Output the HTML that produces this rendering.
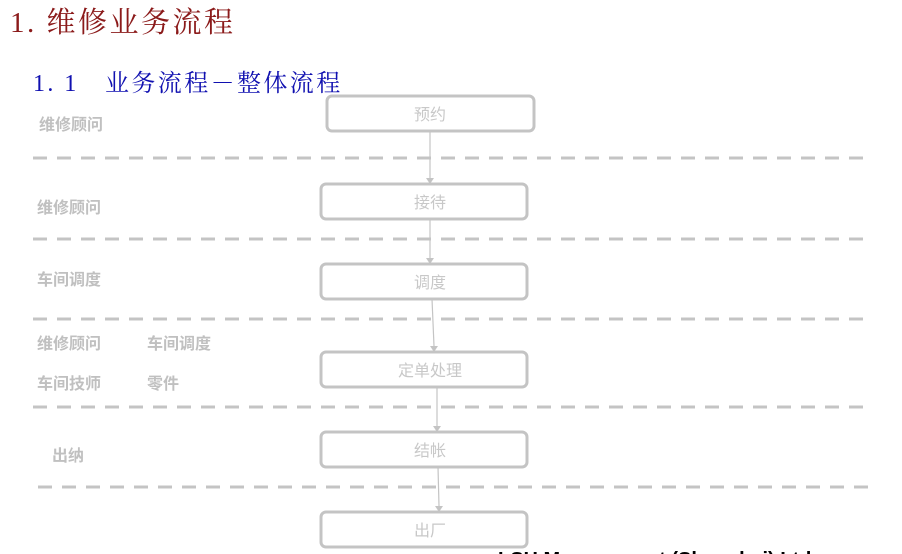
<!DOCTYPE html>
<html><head><meta charset="utf-8"><style>
body{margin:0;background:#fff;width:902px;height:554px;overflow:hidden;position:relative;font-family:"Liberation Sans","Noto Sans CJK SC",sans-serif}
.t{position:absolute;white-space:nowrap}
.l{color:#c0c0c0;font-weight:bold;font-size:16px}
</style></head><body>
<div class="t" style="left:10px;top:0px;font-size:29px;letter-spacing:2.5px;color:#8b1a1a;font-family:'Liberation Serif','Noto Serif CJK SC',serif">1. 维修业务流程</div>
<div class="t" style="left:33px;top:63px;font-size:24px;letter-spacing:2.4px;color:#1010b0;font-family:'Liberation Serif','Noto Serif CJK SC',serif">1. 1　业务流程－整体流程</div>
<div class="t l" style="left:39px;top:111px">维修顾问</div>
<div class="t l" style="left:37px;top:194px">维修顾问</div>
<div class="t l" style="left:37px;top:266px">车间调度</div>
<div class="t l" style="left:37px;top:330px">维修顾问</div>
<div class="t l" style="left:147px;top:330px">车间调度</div>
<div class="t l" style="left:37px;top:370px">车间技师</div>
<div class="t l" style="left:147px;top:370px">零件</div>
<div class="t l" style="left:52px;top:442px">出纳</div>
<svg width="902" height="554" style="position:absolute;left:0;top:0" font-family="Liberation Sans,Noto Sans CJK SC,sans-serif">
<g stroke="#c4c4c4" stroke-width="3" stroke-dasharray="14,10">
<line x1="33" y1="158" x2="865" y2="158"/>
<line x1="33" y1="239" x2="865" y2="239"/>
<line x1="33" y1="319" x2="865" y2="319"/>
<line x1="33" y1="407" x2="865" y2="407"/>
<line x1="38" y1="487" x2="868" y2="487"/>
</g>
<g stroke="#c4c4c4" stroke-width="1.2">
<line x1="430" y1="131" x2="430" y2="178"/>
<line x1="430" y1="219" x2="430" y2="258"/>
<line x1="432" y1="299" x2="434" y2="346"/>
<line x1="437" y1="387" x2="437" y2="426"/>
<line x1="438" y1="467" x2="439" y2="506"/>
</g>
<g fill="#c4c4c4">
<polygon points="426,178 434,178 430,184"/>
<polygon points="426,258 434,258 430,264"/>
<polygon points="430,346 438,346 434,352"/>
<polygon points="433,426 441,426 437,432"/>
<polygon points="435,506 443,506 439,512"/>
</g>
<g fill="#fff" stroke="#c4c4c4" stroke-width="3">
<rect x="327" y="96" width="207" height="35" rx="5"/>
<rect x="321" y="184" width="206" height="35" rx="5"/>
<rect x="321" y="264" width="206" height="35" rx="5"/>
<rect x="321" y="352" width="206" height="35" rx="5"/>
<rect x="321" y="432" width="206" height="35" rx="5"/>
<rect x="321" y="512" width="206" height="35" rx="5"/>
</g>
<g fill="#c8c8c8" font-size="16" text-anchor="middle">
<text x="430" y="120">预约</text>
<text x="430" y="208">接待</text>
<text x="430" y="288">调度</text>
<text x="430" y="376">定单处理</text>
<text x="430" y="456">结帐</text>
<text x="430" y="536">出厂</text>
</g>
<text x="498" y="566" font-size="20" font-weight="bold" fill="#000">LSH Management (Shanghai) Ltd</text>
</svg>
</body></html>
